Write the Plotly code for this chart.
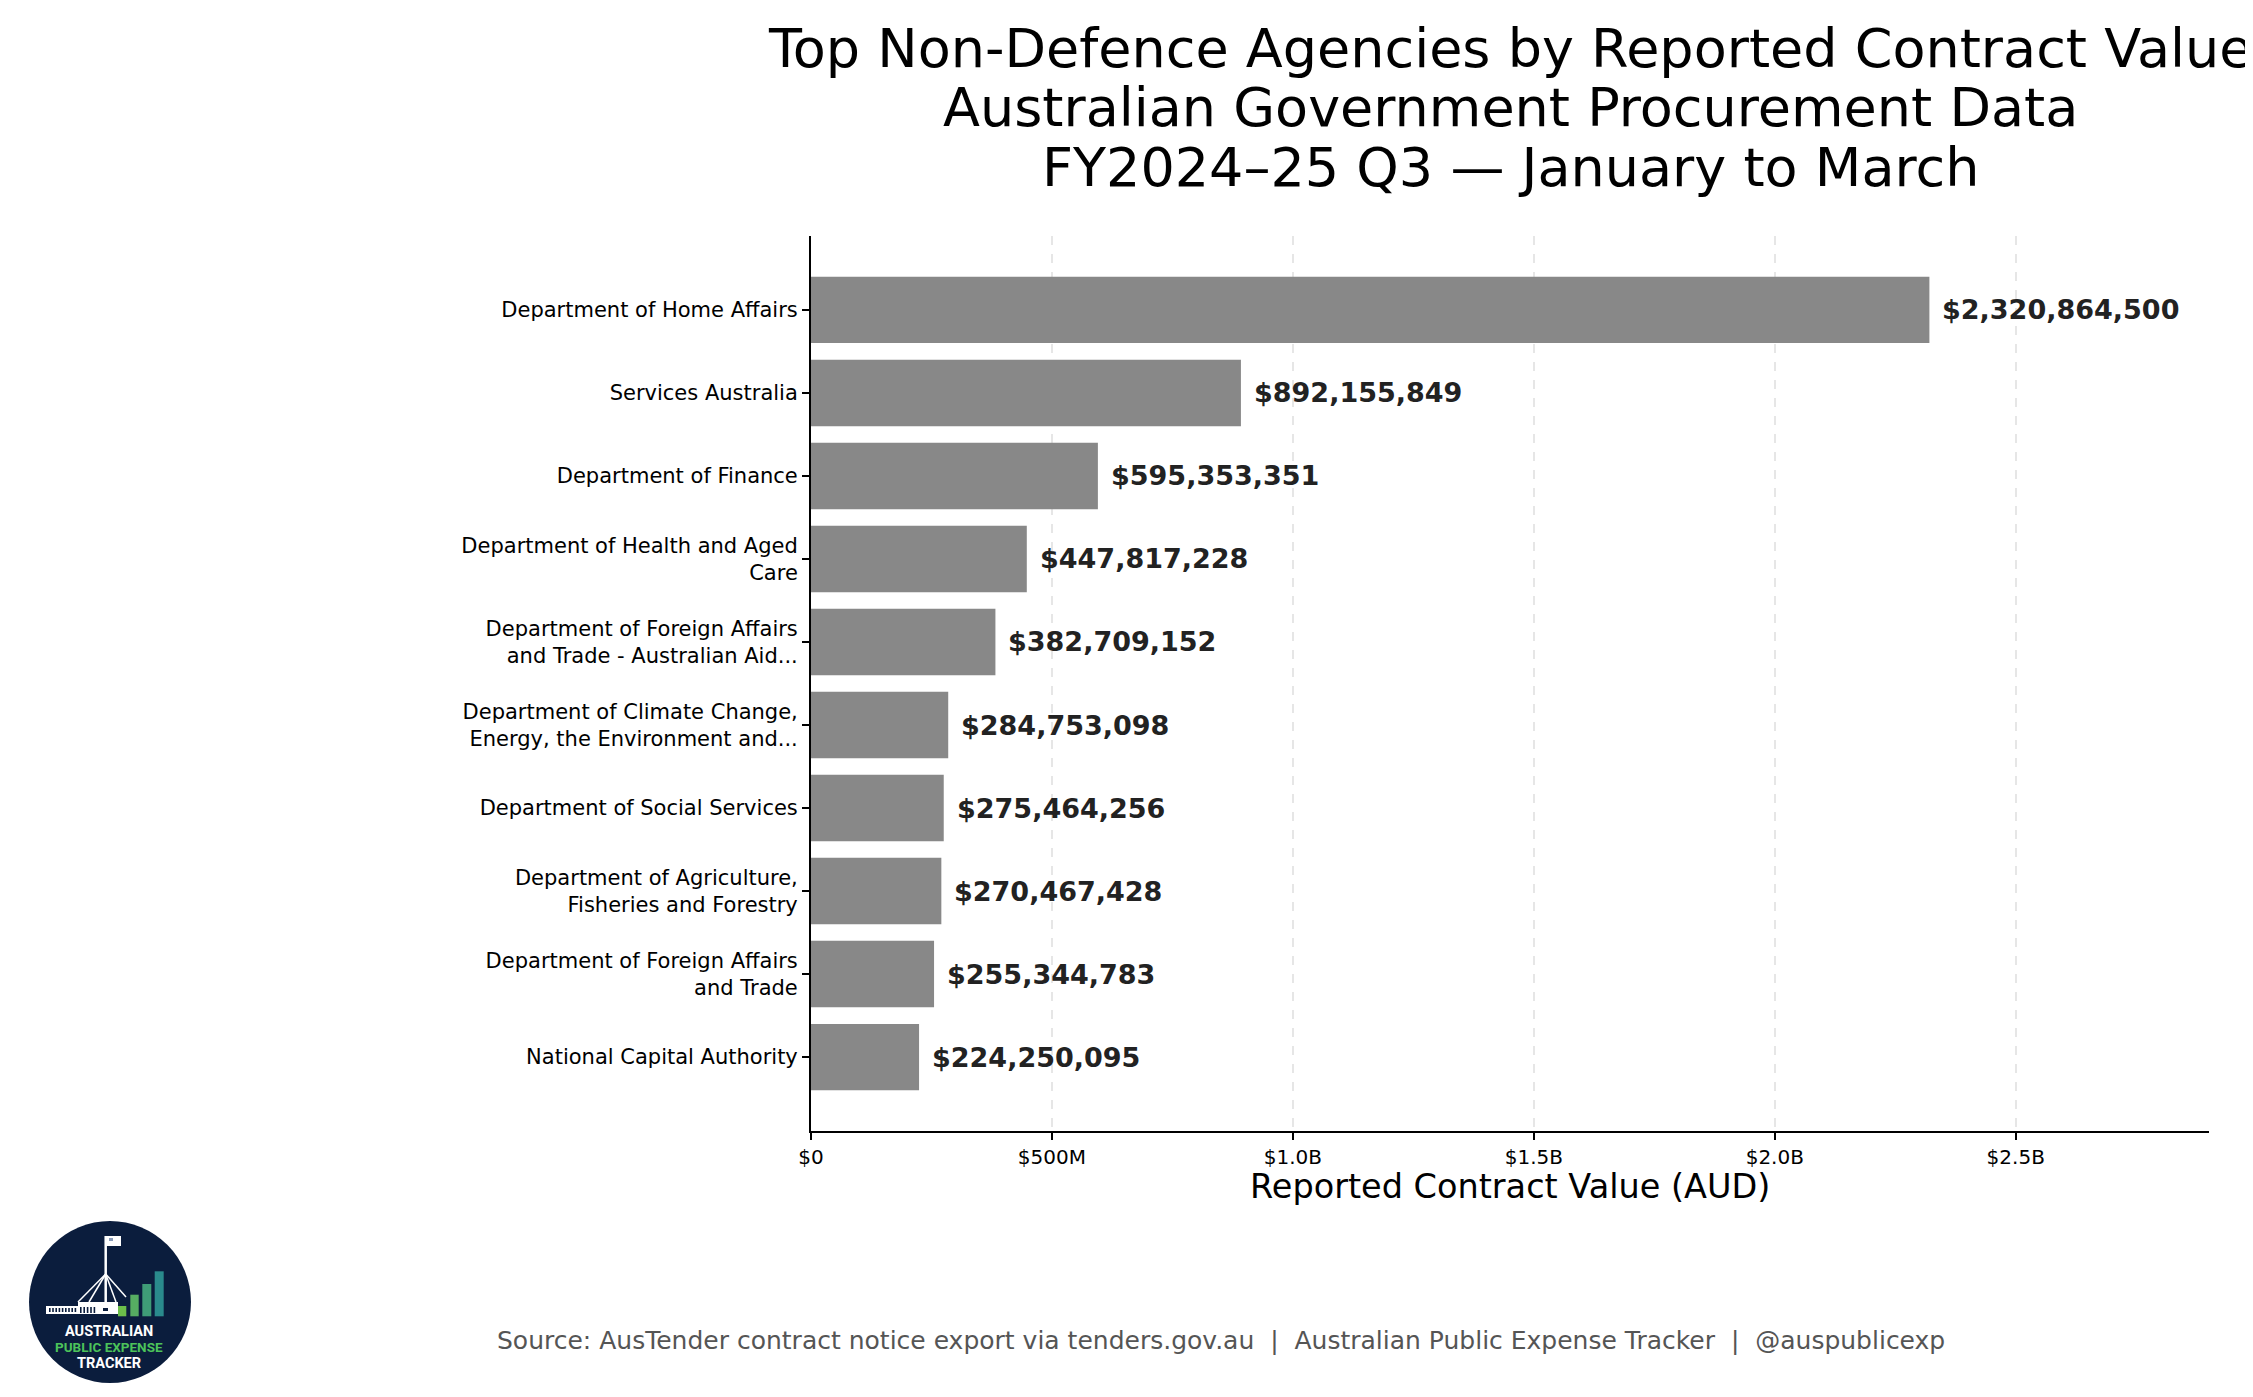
import plotly.graph_objects as go

# ---------------- data ----------------
agencies = [
    "Department of Home Affairs",
    "Services Australia",
    "Department of Finance",
    "Department of Health and Aged<br>Care",
    "Department of Foreign Affairs<br>and Trade - Australian Aid...",
    "Department of Climate Change,<br>Energy, the Environment and...",
    "Department of Social Services",
    "Department of Agriculture,<br>Fisheries and Forestry",
    "Department of Foreign Affairs<br>and Trade",
    "National Capital Authority",
]
values = [
    2320864500,
    892155849,
    595353351,
    447817228,
    382709152,
    284753098,
    275464256,
    270467428,
    255344783,
    224250095,
]
tick_vals = [0, 500e6, 1.0e9, 1.5e9, 2.0e9, 2.5e9]
tick_text = ["$0", "$500M", "$1.0B", "$1.5B", "$2.0B", "$2.5B"]
title_lines = [
    "Top Non-Defence Agencies by Reported Contract Value",
    "Australian Government Procurement Data",
    "FY2024–25 Q3 — January to March",
]
x_title = "Reported Contract Value (AUD)"
source_text = ("Source: AusTender contract notice export via tenders.gov.au \u00a0|\u00a0 "
               "Australian Public Expense Tracker \u00a0|\u00a0 @auspublicexp")
logo_lines = ["AUSTRALIAN", "PUBLIC EXPENSE", "TRACKER"]

# ---------------- layout geometry ----------------
W, H = 2253, 1397
L, R, T, B = 803, 52, 228, 274
PW, PH = W - L - R, H - T - B
FONT = "DejaVu Sans"


def px(xp):
    return (xp - L) / PW


def py(yp):
    return (H - B - yp) / PH


fig = go.Figure()
fig.add_trace(go.Bar(
    x=values, y=agencies, orientation="h",
    marker=dict(color="#888888", line=dict(width=0)),
    hoverinfo="skip",
))

annotations = []
for a, v in zip(agencies, values):
    annotations.append(dict(
        x=v, y=a, xref="x", yref="y", text=f"<b>${v:,.0f}</b>",
        showarrow=False, xanchor="left", yanchor="middle", xshift=11,
        font=dict(family=FONT, size=27, color="#222222"),
    ))

title_y = [40, 99, 159]
for line, ty in zip(title_lines, title_y):
    annotations.append(dict(
        x=0.5, y=py(ty), xref="paper", yref="paper", text=line,
        showarrow=False, xanchor="center", yanchor="middle",
        font=dict(family=FONT, size=54, color="#000000"),
    ))

annotations.append(dict(
    x=0.5, y=py(1178), xref="paper", yref="paper", text=x_title,
    showarrow=False, xanchor="center", yanchor="middle",
    font=dict(family=FONT, size=33.5, color="#000000"),
))
annotations.append(dict(
    x=px(1213), y=py(1332), xref="paper", yref="paper", text=source_text,
    showarrow=False, xanchor="center", yanchor="middle",
    font=dict(family=FONT, size=25, color="#555555"),
))

# ---------------- logo (decoration) ----------------
shapes = []


def rect(x0, y0, x1, y1, color, kind="rect"):
    shapes.append(dict(type=kind, xref="paper", yref="paper",
                       x0=px(x0), x1=px(x1), y0=py(y1), y1=py(y0),
                       fillcolor=color, line=dict(width=0), layer="above"))


def seg(x0, y0, x1, y1, color="#ffffff", w=1.5):
    shapes.append(dict(type="line", xref="paper", yref="paper",
                       x0=px(x0), x1=px(x1), y0=py(y0), y1=py(y1),
                       line=dict(color=color, width=w), layer="above"))


rect(21, 1213, 183, 1375, "#0b1d3d", kind="circle")
# parliament building
rect(38, 1298, 110, 1306, "#ffffff")
rect(70, 1294, 110, 1298, "#ffffff")
for i in range(9):
    xx = 41 + i * 3.2
    rect(xx, 1300, xx + 1.6, 1304, "#0b1d3d")
for i in range(5):
    xx = 72 + i * 3.4
    rect(xx, 1299, xx + 1.6, 1305, "#0b1d3d")
rect(95, 1300, 100, 1303, "#0b1d3d")
# flagpole, flag and cables
seg(97.7, 1228, 97.7, 1296, w=2.5)
rect(98, 1228, 113, 1238, "#ffffff")
rect(101, 1230, 105, 1233, "#8a9bb8")
seg(97.7, 1266, 70, 1294)
seg(97.7, 1266, 81, 1294)
seg(97.7, 1266, 108, 1294)
seg(97.7, 1266, 118, 1289)
# growth bars
rect(110, 1298, 118.3, 1308.3, "#6cbf4a")
rect(122.3, 1286.7, 130.7, 1308.3, "#56ad62")
rect(134.3, 1276, 143.3, 1308.3, "#3f9c77")
rect(146.7, 1263.3, 155.7, 1308.3, "#2a8a8c")

logo_y = [1323, 1339, 1355]
logo_col = ["#ffffff", "#4cc35a", "#ffffff"]
logo_size = [14.5, 13.5, 14.5]
for t, ly, c, s in zip(logo_lines, logo_y, logo_col, logo_size):
    annotations.append(dict(
        x=px(101), y=py(ly), xref="paper", yref="paper", text=f"<b>{t}</b>",
        showarrow=False, xanchor="center", yanchor="middle",
        font=dict(family="Roboto", size=s, color=c),
    ))

fig.update_layout(
    width=W, height=H,
    margin=dict(l=L, r=R, t=T, b=B, pad=0),
    paper_bgcolor="#ffffff", plot_bgcolor="#ffffff",
    bargap=0.2, showlegend=False,
    font=dict(family=FONT, color="#000000"),
    annotations=annotations, shapes=shapes,
    xaxis=dict(
        range=[0, max(values) * 1.25],
        tickmode="array", tickvals=tick_vals, ticktext=tick_text,
        tickfont=dict(family=FONT, size=20, color="#000000"),
        ticks="outside", ticklen=7, tickwidth=1.5, tickcolor="#000000",
        showline=True, linecolor="#000000", linewidth=2,
        showgrid=True, gridcolor="#e6e6e6", gridwidth=1.5, griddash="dash",
        zeroline=False, fixedrange=True,
    ),
    yaxis=dict(
        type="category", categoryorder="array", categoryarray=agencies,
        range=[len(agencies) - 1 + 0.89, -0.89],
        tickfont=dict(family=FONT, size=21, color="#000000"),
        ticks="outside", ticklen=7, tickwidth=1.5, tickcolor="#000000",
        showline=True, linecolor="#000000", linewidth=2,
        showgrid=False, zeroline=False, fixedrange=True,
    ),
)

fig.write_html("out.html")
